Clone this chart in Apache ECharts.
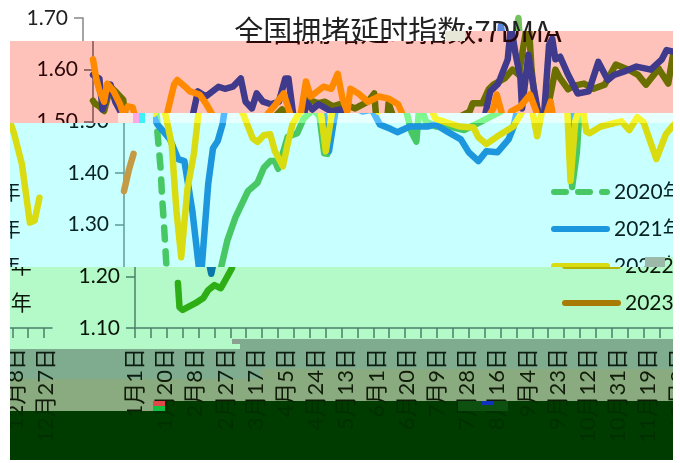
<!DOCTYPE html>
<html><head><meta charset="utf-8">
<style>html,body{margin:0;padding:0;background:#fff;width:680px;height:463px;overflow:hidden}
.band{position:absolute;left:0;top:0;width:680px;height:463px}
.c{position:absolute;top:0;width:663px;height:463px}
.b{position:absolute}</style>
<script src="https://cdn.jsdelivr.net/npm/echarts@6/dist/echarts.min.js"></script>
</head><body>
<script>
const titleText='全国拥堵延时指数:7DMA';
const seriesNames=['2020年','2021年','2022年','2023年'];
const yMin=1.1,yMax=1.7,yStep=0.1;
const monthDays=[31,29,31,30,31,30,31,31,30,31,30,31];
const categories=[];monthDays.forEach((n,m)=>{for(let d=1;d<=n;d++)categories.push((m+1)+'月'+d+'日');});

const days2020a=[0,1,4,7,11,15,19,21];
const vals2020a=[1.54,1.535,1.529,1.52,1.567,1.555,1.542,1.50];
const days2020dash=[21,23,24,25,26,27];
const vals2020dash=[1.48,1.41,1.352,1.308,1.256,1.205];
const days2020b=[27,28,30,38,43,46,50,54,61,65,70,78,84,88,92,95,97,103,109,113,119,123,126,128,131,135,142,146,151,157,165,173,177,178,181,184,186,190,196,205,214,225,237,239,245,249,252,259,264,268,271,274,276,278,280,282,285,287,291,294,299,303,309,315,322,329,337,343,348,356,362,365];
const vals2020b=[1.187,1.14,1.135,1.148,1.158,1.173,1.183,1.177,1.216,1.269,1.313,1.365,1.381,1.41,1.423,1.423,1.408,1.47,1.477,1.505,1.523,1.51,1.438,1.437,1.49,1.542,1.535,1.538,1.529,1.535,1.525,1.538,1.554,1.515,1.479,1.461,1.535,1.5,1.49,1.49,1.483,1.50,1.519,1.535,1.535,1.562,1.571,1.583,1.60,1.59,1.648,1.70,1.60,1.544,1.52,1.373,1.44,1.538,1.60,1.583,1.562,1.569,1.573,1.563,1.571,1.61,1.60,1.59,1.571,1.602,1.573,1.629];

const days2021=[0,4,6,11,14,18,21,29,34,38,43,47,48,49,53,56,59,62,63,66,71,79,83,88,93,96,100,103,107,112,117,121,123,126,129,134,138,142,150,156,161,168,172,180,191,196,204,212,217,223,228,235,242,245,250,255,261,263,266,269,270,274,277,280,281,284,287,289,291,294,299,305,312,318,324,328,334,342,351,358,361,365];
const vals2021=[1.59,1.583,1.523,1.571,1.538,1.515,1.494,1.465,1.427,1.423,1.327,1.22,1.205,1.22,1.379,1.448,1.462,1.494,1.515,1.558,1.548,1.567,1.563,1.567,1.583,1.538,1.525,1.554,1.538,1.533,1.538,1.583,1.583,1.513,1.442,1.538,1.523,1.533,1.519,1.523,1.494,1.485,1.479,1.49,1.49,1.494,1.479,1.465,1.44,1.423,1.442,1.44,1.465,1.488,1.558,1.573,1.62,1.685,1.629,1.583,1.525,1.629,1.571,1.519,1.45,1.519,1.648,1.66,1.62,1.625,1.59,1.554,1.558,1.615,1.58,1.59,1.596,1.606,1.60,1.62,1.638,1.635];

const days2022=[0,2,4,7,9,13,17,19,22,25,27,30,33,36,40,43.5,47,51,53,58,61,67,71,75,81,84,88,92,95,100,103,106,110,115,120,124,127,131,134,137,145,150,154,157,160,162,167,173,180,186,192,196,211,220,223,228,235,245,252,254,257,260,263,269,275,279,281,284,288,291,293,300,313,318,323,327,335,341,346,348,353,358,361,364];
const vals2022=[1.62,1.583,1.56,1.538,1.573,1.558,1.533,1.515,1.529,1.527,1.50,1.456,1.327,1.237,1.371,1.437,1.52,1.571,1.58,1.567,1.558,1.552,1.535,1.514,1.467,1.46,1.473,1.475,1.442,1.413,1.456,1.494,1.515,1.533,1.554,1.515,1.442,1.519,1.577,1.548,1.567,1.563,1.592,1.544,1.519,1.563,1.554,1.538,1.548,1.544,1.533,1.505,1.49,1.488,1.469,1.456,1.471,1.49,1.525,1.552,1.519,1.471,1.519,1.529,1.552,1.519,1.385,1.50,1.538,1.48,1.477,1.49,1.50,1.483,1.508,1.498,1.427,1.475,1.494,1.477,1.417,1.304,1.308,1.352];

const days2023=[0,3,6];
const vals2023=[1.365,1.405,1.437];

const zipPts=(d,v)=>d.map((x,i)=>[Math.round(x),v[i]]);

const bands=[
 {poly:[[10,0],[673,0],[673,31],[445,31],[445,41],[10,41]],s:0,wrap:false,bg:'#ffffff',text:'#222222',axis:'#868686',col:['#74C25E','#5A84DC','#D8DC10','#C49A44']},
 {poly:[[10,41],[445,41],[445,31],[673,31],[673,113],[135,113],[135,123],[10,123]],s:10,wrap:false,bg:'#FFC2BA',text:'#2A0808',axis:'#7A5050',col:['#6B6F00','#3F3A8C','#FF8A00','#C49A44']},
 {poly:[[135,113],[673,113],[673,123],[135,123]],s:41,wrap:false,bg:'#E6FFFF',text:'#203030',axis:'#6AA8A0',col:['#7EF78E','#55BBFF','#F6F52E','#C49A44']},
 {poly:[[10,123],[673,123],[673,257],[645,257],[645,267],[10,267]],s:41,wrap:true,bg:'#C8FFFF',text:'#082222',axis:'#5E9C94',col:['#48C864','#1C96DC','#D8DC10','#C49A44']},
 {poly:[[10,267],[645,267],[645,257],[673,257],[673,339],[240,339],[240,349],[10,349]],s:52,wrap:true,bg:'#B4F9C8',text:'#0A160A',axis:'#4A8068',col:['#2CAE14','#0A78A8','#B4B400','#A87C04']},
 {poly:[[10,349],[240,349],[240,339],[673,339],[673,369],[262,369],[262,379],[10,379]],s:52,wrap:true,bg:'#7FAB8F',text:'#0C1C10',axis:'#3A6A50',col:['#2CAE14','#0A78A8','#B4B400','#A87C04']},
 {poly:[[10,379],[262,379],[262,369],[673,369],[673,401],[165,401],[165,411],[10,411]],s:52,wrap:true,bg:'#8AAA80',text:'#101C08',axis:'#3A6A50',col:['#2CAE14','#0A78A8','#B4B400','#A87C04']},
 {poly:[[10,411],[165,411],[165,401],[673,401],[673,460],[10,460]],s:52,wrap:true,bg:'#003C00',text:'#003000',axis:'#003000',col:['#2CAE14','#0A78A8','#B4B400','#A87C04']}
];

// small corrupted patches at the band seams: left, top, width, height, colour
const patches=[[118,113,15,10,'#FFE6DE'],[133,113,6,10,'#FFA8E8'],[139,113,6,10,'#40F0F8'],[145,113,8,10,'#D8F8FF'],
 [445,31,20,10,'#E8E8D8'],[645,257,20,10,'#9CB8A8'],[153,401,12,5,'#E04848'],[153,406,12,5,'#10C040'],
 [458,401,50,10,'#0E5010'],[482,401,12,4,'#1030C0'],[232,339,8,5,'#8AA090']];

function makeOption(b){
 const lineS=(name,pts,color,dash,z)=>({type:'line',name,data:pts,symbol:'none',z,
   itemStyle:{color},
   lineStyle:{color,width:6.5,cap:'round',join:'round',type:dash?[12,12]:'solid'},
   emphasis:{disabled:true},clip:false});
 const font="Lato,'Noto Sans CJK SC'";
 return {
  animation:false,
  textStyle:{fontFamily:font},
  title:{text:titleText,left:378,top:11,textAlign:'center',
    textStyle:{fontFamily:"'Noto Sans CJK SC'",fontSize:29,fontWeight:'normal',color:b.text}},
  legend:{orient:'vertical',left:495,top:175,itemWidth:53,itemHeight:6,itemGap:13,
    data:seriesNames,
    lineStyle:{width:6,cap:'round'},
    textStyle:{fontSize:21,color:b.text,fontFamily:font,lineHeight:24,padding:[0,0,0,2]}},
  grid:{left:73,top:18,width:580,height:310},
  xAxis:{type:'category',boundaryGap:false,data:categories,
    axisLine:{lineStyle:{color:b.axis,width:1.5}},
    axisTick:{interval:9,length:10,lineStyle:{color:b.axis,width:1.5}},
    axisLabel:{interval:18,rotate:90,margin:20,fontSize:22,color:b.text,fontFamily:font}},
  yAxis:{type:'value',min:yMin,max:yMax,interval:yStep,splitLine:{show:false},
    axisLine:{show:true,lineStyle:{color:b.axis,width:1.5}},
    axisTick:{show:true,length:9,lineStyle:{color:b.axis,width:1.5}},
    axisLabel:{margin:15,fontSize:21,color:b.text,fontFamily:font,formatter:v=>v.toFixed(2)}},
  series:[
    lineS(seriesNames[0],zipPts(days2020dash,vals2020dash),b.col[0],true,2),
    lineS(seriesNames[0],zipPts(days2020a,vals2020a),b.col[0],false,2),
    lineS(seriesNames[0],zipPts(days2020b,vals2020b),b.col[0],false,2),
    lineS(seriesNames[1],zipPts(days2021,vals2021),b.col[1],false,3),
    lineS(seriesNames[2],zipPts(days2022,vals2022),b.col[2],false,4),
    lineS(seriesNames[3],zipPts(days2023,vals2023),b.col[3],false,5)
  ]
 };
}

bands.forEach(b=>{
  const wrap=document.createElement('div');
  wrap.className='band';
  wrap.style.background=b.bg;
  wrap.style.clipPath='polygon('+b.poly.map(p=>p[0]+'px '+p[1]+'px').join(',')+')';
  document.body.appendChild(wrap);
  const offs=b.wrap?[10+b.s,10+b.s-663]:[10+b.s];
  offs.forEach(left=>{
    const d=document.createElement('div');
    d.className='c';d.style.left=left+'px';
    wrap.appendChild(d);
    const ch=echarts.init(d,null,{renderer:'canvas'});
    ch.setOption(makeOption(b));
  });
});
patches.forEach(p=>{
  const e=document.createElement('div');e.className='b';
  e.style.cssText='left:'+p[0]+'px;top:'+p[1]+'px;width:'+p[2]+'px;height:'+p[3]+'px;background:'+p[4];
  document.body.appendChild(e);
});
</script>
</body></html>
